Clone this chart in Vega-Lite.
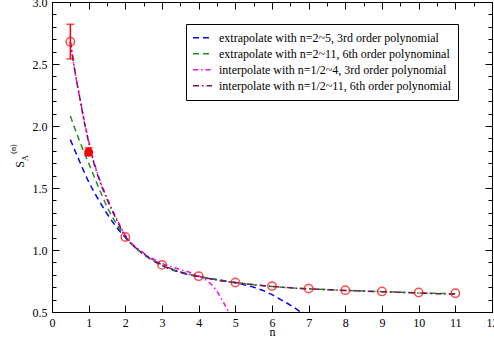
{
  "$schema": "https://vega.github.io/schema/vega-lite/v6.json",
  "width": 440,
  "height": 310,
  "autosize": "none",
  "padding": {"left": 52, "top": 2, "right": 2, "bottom": 30},
  "background": "white",
  "config": {
    "view": {"stroke": "black", "strokeWidth": 1},
    "axis": {
      "domainColor": "black", "tickColor": "black", "labelColor": "black", "titleColor": "black",
      "labelFont": "Liberation Serif", "labelFontSize": 12,
      "titleFont": "Liberation Serif", "titleFontSize": 12, "titleFontWeight": "normal",
      "grid": false, "domainWidth": 1, "tickWidth": 1
    },
    "legend": {
      "orient": "none", "legendX": 134, "legendY": 22,
      "padding": 6, "strokeColor": "black", "fillColor": "white", "cornerRadius": 0,
      "symbolType": "stroke", "symbolSize": 361, "symbolStrokeWidth": 1.5,
      "labelFont": "Liberation Serif", "labelFontSize": 12, "labelColor": "black",
      "labelLimit": 400, "labelOffset": 6, "rowPadding": 0, "clipHeight": 15.3
    }
  },
  "datasets": {
    "pts": [
      {"n": 0.5, "s": 2.68, "f": 0},
      {"n": 1, "s": 1.79, "f": 1},
      {"n": 2, "s": 1.105, "f": 0},
      {"n": 3, "s": 0.88, "f": 0},
      {"n": 4, "s": 0.789, "f": 0},
      {"n": 5, "s": 0.738, "f": 0},
      {"n": 6, "s": 0.709, "f": 0},
      {"n": 7, "s": 0.689, "f": 0},
      {"n": 8, "s": 0.676, "f": 0},
      {"n": 9, "s": 0.666, "f": 0},
      {"n": 10, "s": 0.657, "f": 0},
      {"n": 11, "s": 0.651, "f": 0}
    ],
    "err": [
      {"n": 0.5, "lo": 2.54, "hi": 2.82},
      {"n": 1, "lo": 1.76, "hi": 1.825}
    ],
    "curves": [
      {"series": "extrapolate with n=2~5, 3rd order polynomial", "n": 0.5, "s": 1.89},
      {"series": "extrapolate with n=2~5, 3rd order polynomial", "n": 0.75, "s": 1.716},
      {"series": "extrapolate with n=2~5, 3rd order polynomial", "n": 1, "s": 1.55},
      {"series": "extrapolate with n=2~5, 3rd order polynomial", "n": 1.25, "s": 1.415},
      {"series": "extrapolate with n=2~5, 3rd order polynomial", "n": 1.5, "s": 1.293},
      {"series": "extrapolate with n=2~5, 3rd order polynomial", "n": 1.75, "s": 1.188},
      {"series": "extrapolate with n=2~5, 3rd order polynomial", "n": 2, "s": 1.10},
      {"series": "extrapolate with n=2~5, 3rd order polynomial", "n": 2.5, "s": 0.965},
      {"series": "extrapolate with n=2~5, 3rd order polynomial", "n": 3, "s": 0.875},
      {"series": "extrapolate with n=2~5, 3rd order polynomial", "n": 3.5, "s": 0.819},
      {"series": "extrapolate with n=2~5, 3rd order polynomial", "n": 4, "s": 0.785},
      {"series": "extrapolate with n=2~5, 3rd order polynomial", "n": 4.5, "s": 0.761},
      {"series": "extrapolate with n=2~5, 3rd order polynomial", "n": 5, "s": 0.735},
      {"series": "extrapolate with n=2~5, 3rd order polynomial", "n": 5.5, "s": 0.70},
      {"series": "extrapolate with n=2~5, 3rd order polynomial", "n": 6, "s": 0.64},
      {"series": "extrapolate with n=2~5, 3rd order polynomial", "n": 6.25, "s": 0.598},
      {"series": "extrapolate with n=2~5, 3rd order polynomial", "n": 6.5, "s": 0.555},
      {"series": "extrapolate with n=2~5, 3rd order polynomial", "n": 6.75, "s": 0.505},
      {"series": "extrapolate with n=2~5, 3rd order polynomial", "n": 6.85, "s": 0.48},
      {"series": "extrapolate with n=2~11, 6th order polynominal", "n": 0.5, "s": 2.08},
      {"series": "extrapolate with n=2~11, 6th order polynominal", "n": 0.75, "s": 1.88},
      {"series": "extrapolate with n=2~11, 6th order polynominal", "n": 1, "s": 1.70},
      {"series": "extrapolate with n=2~11, 6th order polynominal", "n": 1.25, "s": 1.52},
      {"series": "extrapolate with n=2~11, 6th order polynominal", "n": 1.5, "s": 1.35},
      {"series": "extrapolate with n=2~11, 6th order polynominal", "n": 1.75, "s": 1.215},
      {"series": "extrapolate with n=2~11, 6th order polynominal", "n": 2, "s": 1.105},
      {"series": "extrapolate with n=2~11, 6th order polynominal", "n": 2.5, "s": 0.965},
      {"series": "extrapolate with n=2~11, 6th order polynominal", "n": 3, "s": 0.878},
      {"series": "extrapolate with n=2~11, 6th order polynominal", "n": 3.5, "s": 0.822},
      {"series": "extrapolate with n=2~11, 6th order polynominal", "n": 4, "s": 0.787},
      {"series": "extrapolate with n=2~11, 6th order polynominal", "n": 4.5, "s": 0.76},
      {"series": "extrapolate with n=2~11, 6th order polynominal", "n": 5, "s": 0.738},
      {"series": "extrapolate with n=2~11, 6th order polynominal", "n": 5.5, "s": 0.72},
      {"series": "extrapolate with n=2~11, 6th order polynominal", "n": 6, "s": 0.706},
      {"series": "extrapolate with n=2~11, 6th order polynominal", "n": 6.5, "s": 0.695},
      {"series": "extrapolate with n=2~11, 6th order polynominal", "n": 7, "s": 0.687},
      {"series": "extrapolate with n=2~11, 6th order polynominal", "n": 7.5, "s": 0.68},
      {"series": "extrapolate with n=2~11, 6th order polynominal", "n": 8, "s": 0.674},
      {"series": "extrapolate with n=2~11, 6th order polynominal", "n": 8.5, "s": 0.669},
      {"series": "extrapolate with n=2~11, 6th order polynominal", "n": 9, "s": 0.664},
      {"series": "extrapolate with n=2~11, 6th order polynominal", "n": 9.5, "s": 0.659},
      {"series": "extrapolate with n=2~11, 6th order polynominal", "n": 10, "s": 0.654},
      {"series": "extrapolate with n=2~11, 6th order polynominal", "n": 10.5, "s": 0.65},
      {"series": "extrapolate with n=2~11, 6th order polynominal", "n": 11, "s": 0.647},
      {"series": "interpolate with n=1/2~4, 3rd order polynomial", "n": 0.5, "s": 2.68},
      {"series": "interpolate with n=1/2~4, 3rd order polynomial", "n": 0.625, "s": 2.44},
      {"series": "interpolate with n=1/2~4, 3rd order polynomial", "n": 0.75, "s": 2.24},
      {"series": "interpolate with n=1/2~4, 3rd order polynomial", "n": 0.875, "s": 2.05},
      {"series": "interpolate with n=1/2~4, 3rd order polynomial", "n": 1, "s": 1.88},
      {"series": "interpolate with n=1/2~4, 3rd order polynomial", "n": 1.125, "s": 1.73},
      {"series": "interpolate with n=1/2~4, 3rd order polynomial", "n": 1.25, "s": 1.61},
      {"series": "interpolate with n=1/2~4, 3rd order polynomial", "n": 1.5, "s": 1.42},
      {"series": "interpolate with n=1/2~4, 3rd order polynomial", "n": 1.75, "s": 1.26},
      {"series": "interpolate with n=1/2~4, 3rd order polynomial", "n": 2, "s": 1.12},
      {"series": "interpolate with n=1/2~4, 3rd order polynomial", "n": 2.5, "s": 0.975},
      {"series": "interpolate with n=1/2~4, 3rd order polynomial", "n": 3, "s": 0.893},
      {"series": "interpolate with n=1/2~4, 3rd order polynomial", "n": 3.5, "s": 0.842},
      {"series": "interpolate with n=1/2~4, 3rd order polynomial", "n": 3.75, "s": 0.82},
      {"series": "interpolate with n=1/2~4, 3rd order polynomial", "n": 4, "s": 0.79},
      {"series": "interpolate with n=1/2~4, 3rd order polynomial", "n": 4.25, "s": 0.748},
      {"series": "interpolate with n=1/2~4, 3rd order polynomial", "n": 4.5, "s": 0.665},
      {"series": "interpolate with n=1/2~4, 3rd order polynomial", "n": 4.65, "s": 0.59},
      {"series": "interpolate with n=1/2~4, 3rd order polynomial", "n": 4.8, "s": 0.51},
      {"series": "interpolate with n=1/2~4, 3rd order polynomial", "n": 4.85, "s": 0.48},
      {"series": "interpolate with n=1/2~11, 6th order polynomial", "n": 0.5, "s": 2.68},
      {"series": "interpolate with n=1/2~11, 6th order polynomial", "n": 0.625, "s": 2.44},
      {"series": "interpolate with n=1/2~11, 6th order polynomial", "n": 0.75, "s": 2.24},
      {"series": "interpolate with n=1/2~11, 6th order polynomial", "n": 0.875, "s": 2.04},
      {"series": "interpolate with n=1/2~11, 6th order polynomial", "n": 1, "s": 1.87},
      {"series": "interpolate with n=1/2~11, 6th order polynomial", "n": 1.125, "s": 1.72},
      {"series": "interpolate with n=1/2~11, 6th order polynomial", "n": 1.25, "s": 1.60},
      {"series": "interpolate with n=1/2~11, 6th order polynomial", "n": 1.5, "s": 1.41},
      {"series": "interpolate with n=1/2~11, 6th order polynomial", "n": 1.75, "s": 1.25},
      {"series": "interpolate with n=1/2~11, 6th order polynomial", "n": 2, "s": 1.11},
      {"series": "interpolate with n=1/2~11, 6th order polynomial", "n": 2.5, "s": 0.97},
      {"series": "interpolate with n=1/2~11, 6th order polynomial", "n": 3, "s": 0.88},
      {"series": "interpolate with n=1/2~11, 6th order polynomial", "n": 3.5, "s": 0.822},
      {"series": "interpolate with n=1/2~11, 6th order polynomial", "n": 4, "s": 0.787},
      {"series": "interpolate with n=1/2~11, 6th order polynomial", "n": 4.5, "s": 0.758},
      {"series": "interpolate with n=1/2~11, 6th order polynomial", "n": 5, "s": 0.737},
      {"series": "interpolate with n=1/2~11, 6th order polynomial", "n": 5.5, "s": 0.72},
      {"series": "interpolate with n=1/2~11, 6th order polynomial", "n": 6, "s": 0.706},
      {"series": "interpolate with n=1/2~11, 6th order polynomial", "n": 6.5, "s": 0.695},
      {"series": "interpolate with n=1/2~11, 6th order polynomial", "n": 7, "s": 0.687},
      {"series": "interpolate with n=1/2~11, 6th order polynomial", "n": 7.5, "s": 0.68},
      {"series": "interpolate with n=1/2~11, 6th order polynomial", "n": 8, "s": 0.674},
      {"series": "interpolate with n=1/2~11, 6th order polynomial", "n": 8.5, "s": 0.669},
      {"series": "interpolate with n=1/2~11, 6th order polynomial", "n": 9, "s": 0.664},
      {"series": "interpolate with n=1/2~11, 6th order polynomial", "n": 9.5, "s": 0.659},
      {"series": "interpolate with n=1/2~11, 6th order polynomial", "n": 10, "s": 0.653},
      {"series": "interpolate with n=1/2~11, 6th order polynomial", "n": 10.5, "s": 0.648},
      {"series": "interpolate with n=1/2~11, 6th order polynomial", "n": 11, "s": 0.644}
    ]
  },
  "resolve": {"axis": {"x": "independent", "y": "independent"}},
  "layer": [
    {
      "data": {"name": "curves"},
      "mark": {"type": "line", "strokeWidth": 1.5, "clip": true, "interpolate": "monotone"},
      "encoding": {
        "x": {"field": "n", "type": "quantitative", "scale": {"domain": [0, 12], "nice": false, "zero": false},
          "axis": {
            "orient": "bottom", "title": "n", "format": "d",
            "titleX": 220, "titleY": 23, "titleAlign": "center", "titleBaseline": "alphabetic",
            "values": [0,0.5,1,1.5,2,2.5,3,3.5,4,4.5,5,5.5,6,6.5,7,7.5,8,8.5,9,9.5,10,10.5,11,11.5,12],
            "labelExpr": "datum.value % 1 === 0 ? datum.label : ''",
            "tickSize": {"condition": {"test": "datum.value % 1 === 0", "value": -7}, "value": -4},
            "labelPadding": 12, "labelFlush": false, "labelOverlap": false
          }},
        "y": {"field": "s", "type": "quantitative", "scale": {"domain": [0.5, 3.0], "nice": false, "zero": false},
          "axis": {
            "orient": "left", "title": "S",
            "titleX": -33, "titleY": 162, "titleAngle": 270, "titleAlign": "center", "titleBaseline": "middle",
            "values": [0.5,0.6,0.7,0.8,0.9,1.0,1.1,1.2,1.3,1.4,1.5,1.6,1.7,1.8,1.9,2.0,2.1,2.2,2.3,2.4,2.5,2.6,2.7,2.8,2.9,3.0],
            "format": ".1f",
            "labelExpr": "abs(datum.value*2 - round(datum.value*2)) < 0.0001 ? datum.label : ''",
            "tickSize": {"condition": {"test": "abs(datum.value*2 - round(datum.value*2)) < 0.0001", "value": -7}, "value": -4},
            "labelPadding": 12, "labelFlush": false, "labelOverlap": false
          }},
        "color": {"field": "series", "type": "nominal",
          "scale": {"domain": ["extrapolate with n=2~5, 3rd order polynomial", "extrapolate with n=2~11, 6th order polynominal", "interpolate with n=1/2~4, 3rd order polynomial", "interpolate with n=1/2~11, 6th order polynomial"],
            "range": ["#0000ff", "#1f8f1f", "#ff00ff", "#7a1060"]},
          "legend": {"title": null}},
        "strokeDash": {"field": "series", "type": "nominal",
          "scale": {"domain": ["extrapolate with n=2~5, 3rd order polynomial", "extrapolate with n=2~11, 6th order polynominal", "interpolate with n=1/2~4, 3rd order polynomial", "interpolate with n=1/2~11, 6th order polynomial"],
            "range": [[6, 4], [6, 4], [5, 3, 1.5, 3], [6, 3, 1.5, 3]]},
          "legend": {"title": null}}
      }
    },
    {
      "data": {"name": "err"},
      "mark": {"type": "rule", "color": "#ff0000", "strokeWidth": 1.5},
      "encoding": {
        "x": {"field": "n", "type": "quantitative", "scale": {"domain": [0, 12], "nice": false, "zero": false}, "axis": null},
        "y": {"field": "lo", "type": "quantitative", "scale": {"domain": [0.5, 3.0], "nice": false, "zero": false}, "axis": null},
        "y2": {"field": "hi"}
      }
    },
    {
      "data": {"name": "err"},
      "mark": {"type": "tick", "orient": "horizontal", "color": "#ff0000", "size": 8, "thickness": 1.5},
      "encoding": {
        "x": {"field": "n", "type": "quantitative", "axis": null},
        "y": {"field": "lo", "type": "quantitative", "axis": null}
      }
    },
    {
      "data": {"name": "err"},
      "mark": {"type": "tick", "orient": "horizontal", "color": "#ff0000", "size": 8, "thickness": 1.5},
      "encoding": {
        "x": {"field": "n", "type": "quantitative", "axis": null},
        "y": {"field": "hi", "type": "quantitative", "axis": null}
      }
    },
    {
      "data": {"name": "pts"},
      "transform": [{"filter": "datum.f == 0"}],
      "mark": {"type": "point", "shape": "circle", "filled": false, "color": "#ff0000", "size": 70, "strokeWidth": 1.5},
      "encoding": {
        "x": {"field": "n", "type": "quantitative", "axis": null},
        "y": {"field": "s", "type": "quantitative", "axis": null}
      }
    },
    {
      "data": {"name": "pts"},
      "transform": [{"filter": "datum.f == 1"}],
      "mark": {"type": "point", "shape": "circle", "filled": true, "color": "#ff0000", "size": 80, "opacity": 1},
      "encoding": {
        "x": {"field": "n", "type": "quantitative", "axis": null},
        "y": {"field": "s", "type": "quantitative", "axis": null}
      }
    },
    {
      "data": {"name": "pts"},
      "mark": {"type": "point", "opacity": 0},
      "encoding": {
        "x": {"field": "n", "type": "quantitative",
          "axis": {
            "orient": "top", "title": null, "labels": false,
            "values": [0,0.5,1,1.5,2,2.5,3,3.5,4,4.5,5,5.5,6,6.5,7,7.5,8,8.5,9,9.5,10,10.5,11,11.5,12],
            "tickSize": {"condition": {"test": "datum.value % 1 === 0", "value": -7}, "value": -4}
          }},
        "y": {"field": "s", "type": "quantitative",
          "axis": {
            "orient": "right", "title": null, "labels": false,
            "values": [0.5,0.6,0.7,0.8,0.9,1.0,1.1,1.2,1.3,1.4,1.5,1.6,1.7,1.8,1.9,2.0,2.1,2.2,2.3,2.4,2.5,2.6,2.7,2.8,2.9,3.0],
            "tickSize": {"condition": {"test": "abs(datum.value*2 - round(datum.value*2)) < 0.0001", "value": -7}, "value": -4}
          }}
      }
    },
    {
      "data": {"name": "pts"},
      "mark": {"type": "point", "opacity": 0},
      "encoding": {
        "x": {"field": "n", "type": "quantitative", "axis": null},
        "y": {"field": "s", "type": "quantitative",
          "axis": {
            "orient": "left", "title": "A", "labels": false, "ticks": false, "domain": false,
            "titleFontSize": 8, "titleX": -26.5, "titleY": 155.5, "titleAngle": 270, "titleAlign": "center", "titleBaseline": "middle"
          }}
      }
    },
    {
      "data": {"name": "pts"},
      "mark": {"type": "point", "opacity": 0},
      "encoding": {
        "x": {"field": "n", "type": "quantitative", "axis": null},
        "y": {"field": "s", "type": "quantitative",
          "axis": {
            "orient": "left", "title": "(n)", "labels": false, "ticks": false, "domain": false,
            "titleFontSize": 8, "titleX": -39, "titleY": 146.5, "titleAngle": 270, "titleAlign": "center", "titleBaseline": "middle"
          }}
      }
    }
  ]
}
